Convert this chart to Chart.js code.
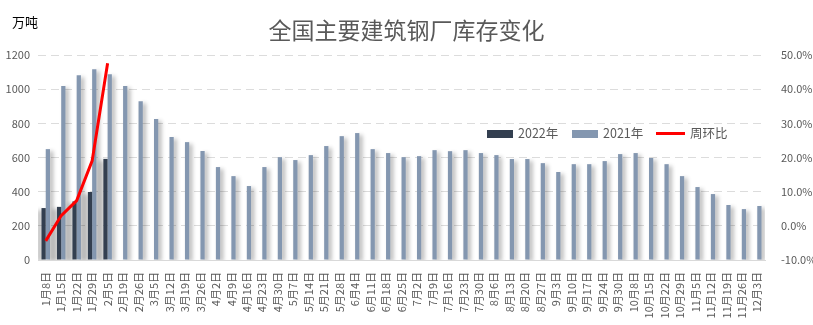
<!DOCTYPE html>
<html>
<head>
<meta charset="utf-8">
<script src="https://cdn.jsdelivr.net/npm/chart.js@4"></script>
<style>
  body { margin: 0; background: #fff; }
  #wrap { position: relative; width: 813px; height: 325px; font-family: "Noto Sans CJK SC", "Noto Sans", sans-serif; }
  #title { position: absolute; left: 0; width: 813px; top: 12px; text-align: center; font-size: 23px; color: #595959; }
  #unit { position: absolute; left: 12px; top: 12px; font-size: 13px; color: #000; }
  .lg { position: absolute; top: 124px; font-size: 12.5px; color: #595959; line-height: 18px; }
  .box { position: absolute; width: 26px; height: 8px; top: 6px; }
  .ln { position: absolute; width: 29px; height: 3px; top: 8px; background: #ff0000; }
</style>
</head>
<body>
<div id="wrap">
  <canvas id="c" width="813" height="325"></canvas>
  <div id="title">全国主要建筑钢厂库存变化</div>
  <div id="unit">万吨</div>
  <div class="lg" style="left:487px"><span class="box" style="left:0;background:#333f50"></span><span style="margin-left:31px">2022年</span></div>
  <div class="lg" style="left:572px"><span class="box" style="left:0;background:#8497b0"></span><span style="margin-left:31px">2021年</span></div>
  <div class="lg" style="left:656px"><span class="ln" style="left:0"></span><span style="margin-left:34px">周环比</span></div>
</div>
<script>
const weeks = ['1月8日','1月15日','1月22日','1月29日','2月5日','2月19日','2月26日','3月5日','3月12日','3月19日','3月26日',
  '4月2日','4月9日','4月16日','4月23日','4月30日','5月7日','5月14日','5月21日','5月28日','6月4日','6月11日','6月18日','6月25日',
  '7月2日','7月9日','7月16日','7月23日','7月30日','8月6日','8月13日','8月20日','8月27日','9月3日','9月10日','9月17日','9月24日','9月30日',
  '10月8日','10月15日','10月22日','10月29日','11月5日','11月12日','11月19日','11月26日','12月3日'];

// 2022 only has the first five weeks so far
const stock2022 = [304, 311, 343, 398, 592];
const stock2021 = [649, 1018, 1082, 1117, 1088, 1018, 930, 825, 720, 690, 638,
  544, 491, 433, 544, 602, 585, 614, 667, 725, 743, 649, 626, 602,
  608, 643, 637, 643, 626, 614, 591, 591, 567, 515, 561, 561, 579, 620,
  626, 597, 561, 491, 427, 386, 322, 298, 316];
// week-on-week change of 2022 stock, in %
const weekChange = [-4.4, 3.0, 7.4, 19.0, 47.6];

const leftTicks = [0, 200, 400, 600, 800, 1000, 1200];
const rightTicks = [-10, 0, 10, 20, 30, 40, 50];

const tickFont = { family: '"Noto Sans CJK SC", sans-serif', size: 11 };
const tickColor = '#595959';

// soft drop shadow behind the bars
const barShadow = {
  id: 'barShadow',
  beforeDatasetDraw(chart, args) {
    const ds = chart.data.datasets[args.index];
    if (ds.type === 'line') return;
    const ctx = chart.ctx;
    ctx.save();
    ctx.shadowColor = 'rgba(0,0,0,0.3)';
    ctx.shadowBlur = 4;
    ctx.shadowOffsetX = ds.shadowX;
    ctx.shadowOffsetY = 2;
  },
  afterDatasetDraw(chart, args) {
    const ds = chart.data.datasets[args.index];
    if (ds.type === 'line') return;
    chart.ctx.restore();
  }
};

new Chart(document.getElementById('c'), {
  type: 'bar',
  data: {
    labels: weeks,
    datasets: [
      {
        label: '2022年',
        data: stock2022,
        backgroundColor: '#333f50',
        yAxisID: 'y',
        categoryPercentage: 0.55,
        barPercentage: 1,
        shadowX: -4,
        order: 1
      },
      {
        label: '2021年',
        data: stock2021,
        backgroundColor: '#8497b0',
        yAxisID: 'y',
        categoryPercentage: 0.55,
        barPercentage: 1,
        shadowX: 3,
        order: 1
      },
      {
        type: 'line',
        label: '周环比',
        data: weekChange,
        borderColor: '#ff0000',
        borderWidth: 3,
        pointRadius: 0,
        tension: 0,
        yAxisID: 'y1',
        order: 0
      }
    ]
  },
  options: {
    responsive: false,
    animation: false,
    layout: { padding: { top: 55, left: 0, right: 0, bottom: 0 } },
    plugins: {
      legend: { display: false },
      title: { display: false },
      tooltip: { enabled: false }
    },
    scales: {
      x: {
        grid: { display: false },
        border: { color: '#d9d9d9', width: 1 },
        ticks: {
          font: tickFont,
          color: tickColor,
          maxRotation: 90,
          minRotation: 90,
          autoSkip: false,
          padding: 4
        },
        afterFit(scale) { scale.height = 65; }
      },
      y: {
        position: 'left',
        min: 0,
        max: 1200,
        afterBuildTicks(scale) { scale.ticks = leftTicks.map(v => ({ value: v })); },
        grid: { color: '#dcdcdc', lineWidth: 1, drawTicks: false },
        border: { display: false, dash: [8, 5] },
        ticks: { font: tickFont, color: tickColor, padding: 8, callback: v => String(v) },
        afterFit(scale) { scale.width = 38; }
      },
      y1: {
        position: 'right',
        min: -10,
        max: 50,
        afterBuildTicks(scale) { scale.ticks = rightTicks.map(v => ({ value: v })); },
        grid: { display: false },
        border: { display: false },
        ticks: {
          font: tickFont,
          color: tickColor,
          padding: 8,
          callback: v => v.toFixed(1) + '%'
        },
        afterFit(scale) { scale.width = 48; }
      }
    }
  },
  plugins: [barShadow]
});
</script>
</body>
</html>
